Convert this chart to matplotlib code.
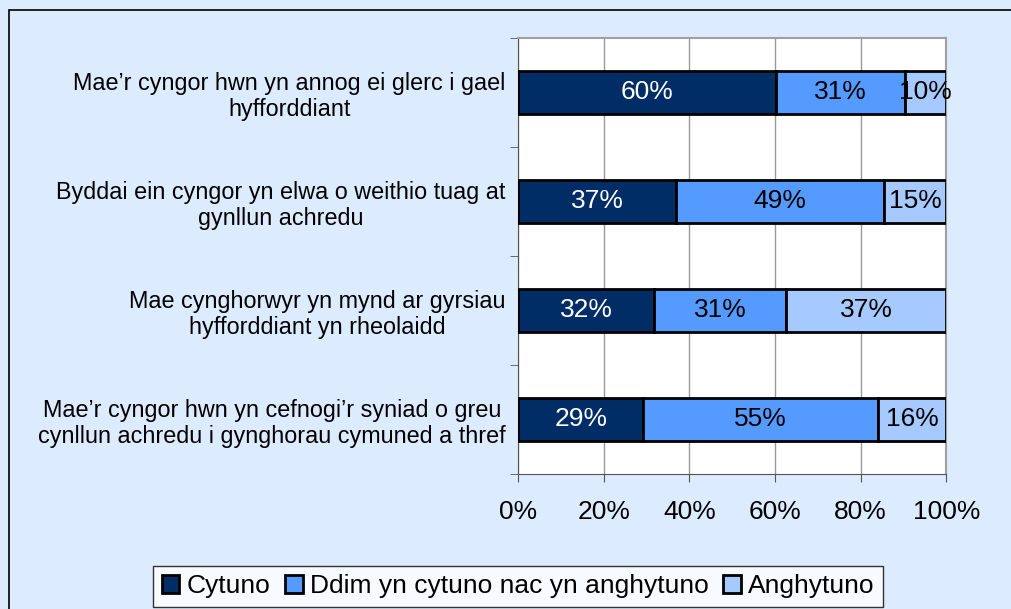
import matplotlib.pyplot as plt
import numpy as np
from matplotlib.patches import Patch

plt.rcParams['font.family'] = ['Liberation Sans', 'DejaVu Sans']

categories = [
    "Mae\u2019r cyngor hwn yn annog ei glerc i gael\nhyfforddiant",
    "Byddai ein cyngor yn elwa o weithio tuag at\ngynllun achredu",
    "Mae cynghorwyr yn mynd ar gyrsiau\nhyfforddiant yn rheolaidd",
    "Mae\u2019r cyngor hwn yn cefnogi\u2019r syniad o greu\ncynllun achredu i gynghorau cymuned a thref",
]
series_names = ["Cytuno", "Ddim yn cytuno nac yn anghytuno", "Anghytuno"]
cytuno = [60.3, 36.9, 31.8, 29.2]
ddim = [30.1, 48.6, 30.8, 54.9]
anghytuno = [9.6, 14.5, 37.4, 15.9]
labels_cytuno = ["60%", "37%", "32%", "29%"]
labels_ddim = ["31%", "49%", "31%", "55%"]
labels_anghytuno = ["10%", "15%", "37%", "16%"]

colors = ["#002D66", "#559BFF", "#A6CAFF"]
text_colors = ["white", "black", "black"]

fig = plt.figure(figsize=(10.12, 6.09), dpi=100)
fig.patch.set_facecolor("#DCEBFE")
fig.patches.append(plt.Rectangle((0.009, -0.02), 1.0, 1.0036, transform=fig.transFigure,
                                 fill=False, edgecolor="black", linewidth=1.2))
ax = fig.add_axes([0.512, 0.222, 0.423, 0.716])

y = np.arange(len(categories))
left = np.zeros(len(categories))
for vals, labs, c, tc, name in zip([cytuno, ddim, anghytuno],
                                   [labels_cytuno, labels_ddim, labels_anghytuno],
                                   colors, text_colors, series_names):
    bars = ax.barh(y, vals, left=left, height=0.39, color=c, edgecolor="black",
                   linewidth=2, label=name, zorder=3)
    for b, lab in zip(bars, labs):
        ax.text(b.get_x() + b.get_width() / 2, b.get_y() + b.get_height() / 2, lab,
                ha="center", va="center", color=tc, fontsize=19, zorder=4)
    left += np.array(vals)

ax.set_xlim(0, 100)
ax.set_ylim(len(categories) - 0.5, -0.5)
ax.set_xticks(np.arange(0, 101, 20))
ax.set_xticklabels([f"{v}%" for v in range(0, 101, 20)], fontsize=19)
ax.xaxis.grid(True, color="#999999", linewidth=1, zorder=0)
ax.tick_params(axis="x", direction="out", length=6, color="#555555", pad=13)

ax.set_yticks(y)
ax.set_yticklabels(categories, fontsize=16.8, multialignment="center")
ax.set_yticks(np.arange(-0.5, len(categories)), minor=True)
ax.tick_params(axis="y", which="major", length=0, pad=9)
ax.tick_params(axis="y", which="minor", direction="out", length=6, color="#555555")

for s in ["top", "right"]:
    ax.spines[s].set_color("#A0A0A0")
    ax.spines[s].set_linewidth(1.5)
for s in ["left", "bottom"]:
    ax.spines[s].set_color("#555555")

handles = [Patch(facecolor=c, edgecolor="black", linewidth=2) for c in colors]
leg = fig.legend(handles, series_names, loc="lower center", bbox_to_anchor=(0.512, 0.003),
                 ncol=3, fontsize=19, frameon=True, fancybox=False, handlelength=0.68,
                 handleheight=0.68, handletextpad=0.27, columnspacing=0.55, borderpad=0.33,
                 borderaxespad=0)
leg.get_frame().set_edgecolor("black")
leg.get_frame().set_linewidth(1)

fig.savefig("out.png", dpi=100, facecolor=fig.get_facecolor())
